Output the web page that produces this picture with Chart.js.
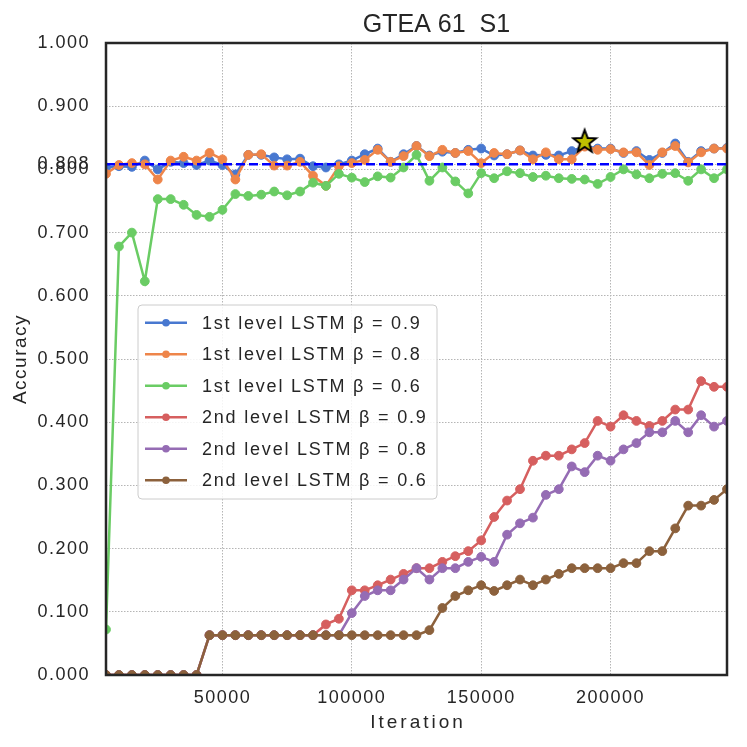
<!DOCTYPE html>
<html>
<head>
<meta charset="utf-8">
<script src="https://cdn.jsdelivr.net/npm/chart.js@4.4.1/dist/chart.umd.min.js"></script>
<style>
  html, body { margin: 0; padding: 0; background: #fff; }
  #wrap { width: 747px; height: 747px; }
</style>
</head>
<body>
<div id="wrap"><canvas id="chart" width="747" height="747"></canvas></div>
<script>
const iterations = [
  5000, 10000, 15000, 20000, 25000, 30000, 35000, 40000, 45000, 50000,
  55000, 60000, 65000, 70000, 75000, 80000, 85000, 90000, 95000, 100000,
  105000, 110000, 115000, 120000, 125000, 130000, 135000, 140000, 145000, 150000,
  155000, 160000, 165000, 170000, 175000, 180000, 185000, 190000, 195000, 200000,
  205000, 210000, 215000, 220000, 225000, 230000, 235000, 240000, 245000
];

const lstm1_b09 = [
  0.803, 0.805, 0.804, 0.814, 0.800, 0.812, 0.810, 0.807, 0.814, 0.807,
  0.792, 0.823, 0.823, 0.819, 0.816, 0.817, 0.805, 0.803, 0.808, 0.814,
  0.824, 0.833, 0.812, 0.824, 0.837, 0.822, 0.828, 0.826, 0.831, 0.833,
  0.822, 0.824, 0.830, 0.822, 0.823, 0.822, 0.829, 0.837, 0.833, 0.833,
  0.826, 0.829, 0.815, 0.826, 0.841, 0.812, 0.829, 0.833, 0.834
];
const lstm1_b08 = [
  0.793, 0.807, 0.810, 0.808, 0.784, 0.814, 0.820, 0.814, 0.826, 0.816,
  0.784, 0.823, 0.824, 0.806, 0.806, 0.812, 0.790, 0.774, 0.805, 0.810,
  0.815, 0.831, 0.812, 0.821, 0.837, 0.821, 0.831, 0.826, 0.829, 0.810,
  0.826, 0.824, 0.830, 0.816, 0.827, 0.816, 0.816, 0.836, 0.831, 0.832,
  0.827, 0.827, 0.807, 0.827, 0.837, 0.811, 0.827, 0.833, 0.833
];
const lstm1_b06 = [
  0.072, 0.678, 0.700, 0.623, 0.753, 0.753, 0.744, 0.728, 0.725, 0.736,
  0.761, 0.758, 0.760, 0.765, 0.759, 0.765, 0.779, 0.774, 0.793, 0.787,
  0.780, 0.789, 0.787, 0.803, 0.823, 0.782, 0.803, 0.781, 0.762, 0.794,
  0.786, 0.797, 0.794, 0.788, 0.790, 0.786, 0.785, 0.784, 0.777, 0.788,
  0.800, 0.792, 0.786, 0.793, 0.794, 0.782, 0.800, 0.786, 0.800
];
const lstm2_b09 = [
  0, 0, 0, 0, 0, 0, 0, 0, 0.063, 0.063,
  0.063, 0.063, 0.063, 0.063, 0.063, 0.063, 0.063, 0.080, 0.089, 0.134,
  0.134, 0.142, 0.151, 0.160, 0.169, 0.169, 0.179, 0.188, 0.196, 0.213,
  0.250, 0.276, 0.294, 0.339, 0.347, 0.347, 0.357, 0.367, 0.402, 0.393,
  0.411, 0.402, 0.394, 0.402, 0.420, 0.420, 0.465, 0.456, 0.456
];
const lstm2_b08 = [
  0, 0, 0, 0, 0, 0, 0, 0, 0.063, 0.063,
  0.063, 0.063, 0.063, 0.063, 0.063, 0.063, 0.063, 0.063, 0.063, 0.098,
  0.125, 0.134, 0.134, 0.151, 0.169, 0.151, 0.169, 0.169, 0.179, 0.187,
  0.179, 0.222, 0.240, 0.249, 0.285, 0.294, 0.330, 0.321, 0.347, 0.339,
  0.357, 0.367, 0.384, 0.384, 0.402, 0.384, 0.411, 0.393, 0.402
];
const lstm2_b06 = [
  0, 0, 0, 0, 0, 0, 0, 0, 0.063, 0.063,
  0.063, 0.063, 0.063, 0.063, 0.063, 0.063, 0.063, 0.063, 0.063, 0.063,
  0.063, 0.063, 0.063, 0.063, 0.063, 0.071, 0.106, 0.125, 0.134, 0.142,
  0.133, 0.142, 0.151, 0.142, 0.151, 0.160, 0.169, 0.169, 0.169, 0.169,
  0.177, 0.177, 0.196, 0.196, 0.232, 0.268, 0.268, 0.277, 0.294
];

const seriesLabels = [
  '1st level LSTM \u03b2 = 0.9',
  '1st level LSTM \u03b2 = 0.8',
  '1st level LSTM \u03b2 = 0.6',
  '2nd level LSTM \u03b2 = 0.9',
  '2nd level LSTM \u03b2 = 0.8',
  '2nd level LSTM \u03b2 = 0.6'
];
const seriesColors = ['#4878d0', '#ee854a', '#6acc64', '#d65f5f', '#956cb4', '#8c613c'];

const bestAccuracy = 0.808;
const bestPoint = { x: 190000, y: 0.845 };

const xTicks = [50000, 100000, 150000, 200000];
const yTicks = [0, 0.1, 0.2, 0.3, 0.4, 0.5, 0.6, 0.7, 0.8, 0.9, 1.0];

const FONT = "'Liberation Sans', Arial, sans-serif";
const TEXT = '#262626';

// filled star used as point style
function makeStar() {
  const c = document.createElement('canvas');
  c.width = 28; c.height = 28;
  const g = c.getContext('2d');
  g.beginPath();
  for (let i = 0; i < 10; i++) {
    const r = i % 2 === 0 ? 12 : 5;
    const a = -Math.PI / 2 + i * Math.PI / 5;
    const px = 14 + r * Math.cos(a), py = 15 + r * Math.sin(a);
    if (i === 0) g.moveTo(px, py); else g.lineTo(px, py);
  }
  g.closePath();
  g.fillStyle = '#bfbf00';
  g.fill();
  g.lineWidth = 2;
  g.strokeStyle = '#000';
  g.stroke();
  return c;
}

const allSeries = [lstm1_b09, lstm1_b08, lstm1_b06, lstm2_b09, lstm2_b08, lstm2_b06];

const datasets = allSeries.map((vals, i) => ({
  label: seriesLabels[i],
  data: vals.map((v, j) => ({ x: iterations[j], y: v })),
  borderColor: seriesColors[i],
  backgroundColor: seriesColors[i],
  pointBackgroundColor: seriesColors[i],
  pointBorderColor: seriesColors[i],
  pointBorderWidth: 1,
  pointRadius: 4.4,
  borderWidth: 2.5,
  tension: 0,
  order: -i,
  inLegend: true
}));

datasets.push({
  label: 'best',
  data: [{ x: iterations[0], y: bestAccuracy }, { x: iterations[iterations.length - 1], y: bestAccuracy }],
  borderColor: '#0000ff',
  borderDash: [9, 4],
  borderWidth: 2.5,
  pointRadius: 0,
  order: -50
});

datasets.push({
  label: 'star',
  data: [bestPoint],
  showLine: false,
  pointStyle: makeStar(),
  pointRadius: 12,
  order: -100
});

const spacingPlugin = {
  id: 'spacing',
  beforeLayout(chart) { chart.ctx.letterSpacing = '1.5px'; },
  beforeDraw(chart) { chart.ctx.letterSpacing = '1.5px'; }
};

const decorPlugin = {
  id: 'decor',
  afterDraw(chart) {
    const { ctx, chartArea: a } = chart;
    ctx.save();
    // frame
    ctx.strokeStyle = '#262626';
    ctx.lineWidth = 2.5;
    ctx.strokeRect(a.left, a.top, a.right - a.left, a.bottom - a.top);

    // title
    ctx.letterSpacing = '0px';
    ctx.fillStyle = TEXT;
    ctx.font = '25px ' + FONT;
    ctx.textAlign = 'center';
    ctx.textBaseline = 'alphabetic';
    ctx.fillText('GTEA 61  S1', 436.5, 32);

    // x axis title
    ctx.letterSpacing = '3px';
    ctx.font = '19px ' + FONT;
    ctx.textBaseline = 'middle';
    ctx.fillText('Iteration', (a.left + a.right) / 2 + 1.5, 723);

    // legend
    const items = chart.data.datasets.filter(d => d.inLegend);
    const bx = 138, by = 305, bw = 299, bh = 194, r = 4;
    ctx.beginPath();
    ctx.moveTo(bx + r, by);
    ctx.arcTo(bx + bw, by, bx + bw, by + bh, r);
    ctx.arcTo(bx + bw, by + bh, bx, by + bh, r);
    ctx.arcTo(bx, by + bh, bx, by, r);
    ctx.arcTo(bx, by, bx + bw, by, r);
    ctx.closePath();
    ctx.fillStyle = 'rgba(255,255,255,0.85)';
    ctx.fill();
    ctx.strokeStyle = '#cccccc';
    ctx.lineWidth = 1;
    ctx.stroke();

    ctx.letterSpacing = '1.8px';
    ctx.font = '18px ' + FONT;
    ctx.textAlign = 'left';
    ctx.textBaseline = 'middle';
    items.forEach((d, i) => {
      const cy = 322.7 + i * 31.5;
      ctx.strokeStyle = d.borderColor;
      ctx.lineWidth = 2.5;
      ctx.beginPath();
      ctx.moveTo(145, cy);
      ctx.lineTo(187, cy);
      ctx.stroke();
      ctx.fillStyle = d.borderColor;
      ctx.beginPath();
      ctx.arc(166, cy, 3.8, 0, Math.PI * 2);
      ctx.fill();
      ctx.fillStyle = TEXT;
      ctx.fillText(d.label, 202, cy + 1);
    });
    ctx.restore();
  }
};

new Chart(document.getElementById('chart'), {
  type: 'line',
  data: { datasets },
  plugins: [spacingPlugin, decorPlugin],
  options: {
    responsive: false,
    animation: false,
    events: [],
    layout: { padding: { top: 43, right: 20, left: 0, bottom: 0 } },
    plugins: {
      legend: { display: false },
      tooltip: { enabled: false },
      title: { display: false }
    },
    scales: {
      x: {
        type: 'linear',
        min: 5000,
        max: 245000,
        afterFit(s) { s.height = 72; },
        afterBuildTicks(s) { s.ticks = xTicks.map(v => ({ value: v })); },
        ticks: {
          autoSkip: false,
          maxRotation: 0,
          padding: 12,
          color: TEXT,
          font: { family: FONT, size: 18 },
          callback: v => String(v)
        },
        grid: { color: '#b5b5b5', lineWidth: 1, drawTicks: false },
        border: { display: false, dash: [1.5, 1.5] },
        title: { display: false }
      },
      y: {
        min: 0,
        max: 1,
        afterFit(s) { s.width = 106; },
        afterBuildTicks(s) {
          s.ticks = yTicks.concat([bestAccuracy]).sort((p, q) => p - q).map(v => ({ value: v }));
        },
        ticks: {
          autoSkip: false,
          padding: 16,
          color: TEXT,
          font: { family: FONT, size: 18 },
          callback: v => Number(v).toFixed(3)
        },
        grid: { color: '#b5b5b5', lineWidth: 1, drawTicks: false },
        border: { display: false, dash: [1.5, 1.5] },
        title: {
          display: true,
          text: 'Accuracy',
          color: TEXT,
          font: { family: FONT, size: 19 },
          padding: { top: 9, bottom: 0 }
        }
      }
    }
  }
});
</script>
</body>
</html>
